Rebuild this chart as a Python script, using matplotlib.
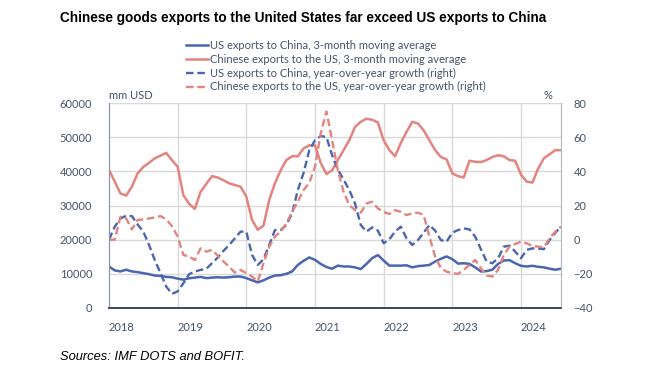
import matplotlib
matplotlib.use("Agg")
import matplotlib.pyplot as plt
import numpy as np
import pandas as pd

# monthly data, Jan 2018 - Aug 2024
months = pd.date_range("2018-01-01", periods=80, freq="MS")

us_to_china = [
    12150, 11000, 10700, 11200, 10700, 10500, 10200, 9900, 9500, 9400, 9100, 9000,
    8600, 8300, 8700, 8900, 9100, 8750, 8900, 9000, 8900, 9000, 9200, 9200,
    8750, 8100, 7500, 8100, 8900, 9500, 9600, 10000, 10700, 12600, 13800, 14800,
    14100, 12900, 12000, 11500, 12400, 12150, 12150, 11900, 11400, 12900, 14600, 15500,
    13900, 12400, 12400, 12400, 12500, 11900, 12250, 12400, 12600, 13600, 14400, 15100,
    14300, 13000, 13100, 12900, 11900, 10700, 10800, 11200, 12900, 13900, 14000, 13100,
    12350, 12150, 12350, 12050, 11900, 11500, 11200, 11500,
]
china_to_us = [
    40400, 37000, 33500, 32900, 35500, 39400, 41300, 42500, 43800, 44600, 45400, 43300,
    41300, 33000, 30500, 29000, 34000, 36300, 38600, 38200, 37400, 36500, 36000, 35500,
    32600, 25800, 22900, 24100, 31600, 36500, 40300, 43300, 44400, 44400, 46700, 47600,
    47600, 42500, 39200, 40300, 43300, 46200, 49100, 53000, 54500, 55400, 55100, 54300,
    49100, 46200, 44400, 48300, 51500, 54500, 54000, 52000, 49100, 46200, 44200, 43500,
    39400, 38600, 38200, 43100, 42800, 42700, 43300, 44200, 44700, 44400, 43300, 43100,
    39000, 37000, 36700, 40800, 43800, 45000, 46200, 46200,
]
us_yoy = [
    0, 7.6, 12.4, 14.0, 13.8, 8.9, 4.7, -3.1, -11.9, -19.6, -27.4, -31.7,
    -30.3, -25.5, -20.2, -18.7, -17.7, -17.1, -13.8, -10.5, -6.6, -3.1, 0.8, 4.7,
    4.7, -8.9, -14.8, -11.5, -3.1, 5.6, 5.6, 8.6, 15.4, 29.0, 39.0, 52.3,
    58.2, 60.7, 60.1, 49.4, 41.0, 35.2, 29.0, 21.2, 8.6, 4.7, 7.2, 5.3,
    -2.1, 0.2, 4.7, 7.6, 0.8, -3.1, -0.2, 4.1, 8.6, 5.3, -0.2, -1.2,
    4.1, 5.6, 6.6, 6.0, 1.8, -5.6, -12.8, -13.8, -10.9, -4.1, -3.5, -7.0,
    -10.9, -6.0, -5.1, -5.1, -5.6, -0.2, 4.1, 7.6,
]
china_yoy = [
    0, 0, 13.4, 12.4, 6.0, 11.5, 11.9, 12.4, 13.0, 13.8, 11.9, 8.0,
    1.8, -8.9, -9.9, -11.9, -5.1, -7.0, -6.0, -9.3, -12.8, -15.8, -19.3, -17.7,
    -19.6, -21.6, -24.5, -13.8, -4.1, 1.8, 4.7, 9.5, 16.3, 22.2, 29.0, 33.3,
    42.6, 62.0, 75.0, 58.2, 40.6, 28.0, 20.2, 17.3, 15.8, 21.2, 22.2, 18.3,
    16.3, 15.0, 17.3, 16.3, 14.4, 15.4, 15.8, 14.4, 1.8, -9.9, -16.7, -18.7,
    -19.6, -20.0, -17.7, -14.8, -11.9, -16.7, -21.0, -21.6, -17.7, -8.9, -4.1, -2.5,
    -1.2, -2.1, -3.7, -4.1, -4.5, 0.8, 4.7, 7.6,
]

labels = [
    "US exports to China, 3-month moving average",
    "Chinese exports to the US, 3-month moving average",
    "US exports to China, year-over-year growth (right)",
    "Chinese exports to the US, year-over-year growth (right)",
]

BLUE = "#4A66AE"
RED = "#E3847E"
TXT = "#44546A"
GRID = "#D9D9D9"

plt.rcParams["font.family"] = ["Lato", "DejaVu Sans"]

x = np.arange(len(months))

fig = plt.figure(figsize=(6.64, 3.74), dpi=100)
ax = fig.add_axes([109 / 664, 1 - 308 / 374, 452 / 664, 205 / 374])
ax2 = ax.twinx()

l1, = ax.plot(x, us_to_china, color=BLUE, lw=1.8)
l2, = ax.plot(x, china_to_us, color=RED, lw=1.8)
l3, = ax2.plot(x, us_yoy, color=BLUE, lw=1.7, ls=(0, (3.2, 1.6)))
l4, = ax2.plot(x, china_yoy, color=RED, lw=1.7, ls=(0, (3.2, 1.6)))

ax.set_xlim(0, len(x) - 1)
ax.set_ylim(0, 60000)
ax2.set_ylim(-40, 80)
ax.set_yticks(np.arange(0, 60001, 10000))
ax2.set_yticks(np.arange(-40, 81, 20))

ax.grid(axis="y", color=GRID, lw=1)
year_starts = [i for i, m in enumerate(months) if m.month == 1]
for i in year_starts[1:]:
    ax.axvline(i, color=GRID, lw=1, zorder=0)
ax.set_axisbelow(True)

ax.set_xticks([])
for i in year_starts:
    ax.text(i, -0.07, str(months[i].year), transform=ax.get_xaxis_transform(),
            ha="left", va="top", fontsize=8, color=TXT)

for a in (ax, ax2):
    a.tick_params(length=0, labelsize=8, labelcolor=TXT)
    a.spines["top"].set_visible(False)
    a.spines["left"].set_color("#8C96A8")
    a.spines["right"].set_color("#B4B9C2")
    a.spines["bottom"].set_color("#3F4A5E")
    a.spines["bottom"].set_linewidth(1.3)
ax.tick_params(axis="y", pad=12)
ax2.tick_params(axis="y", pad=9)

ax.text(0.0, 1.01, "mm USD", transform=ax.transAxes, ha="left", va="bottom",
        fontsize=8, color=TXT)
ax.text(0.98, 1.01, "%", transform=ax.transAxes, ha="right", va="bottom",
        fontsize=8, color=TXT)

fig.legend([l1, l2, l3, l4], labels, loc="upper left",
           bbox_to_anchor=(186 / 664, 1 - 40 / 374), frameon=False,
           fontsize=8, labelcolor=TXT, handlelength=2.0, handletextpad=0.15,
           labelspacing=0.25, borderpad=0, borderaxespad=0)

fig.text(60 / 664, 1 - 18 / 374, "Chinese goods exports to the United States far exceed US exports to China",
         fontsize=9.8, fontweight="bold", family="Liberation Sans", va="center", ha="left")
fig.text(60 / 664, 1 - 357 / 374, "Sources: IMF DOTS and BOFIT.",
         fontsize=9.3, style="italic", family="Liberation Sans", va="center", ha="left")

fig.savefig("out.png", dpi=100)
